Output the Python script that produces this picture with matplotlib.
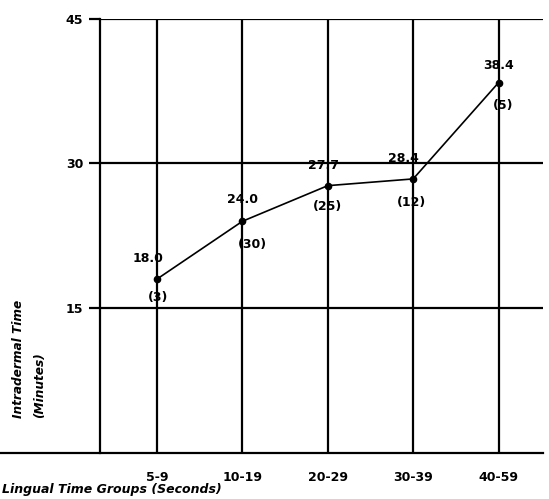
import matplotlib
matplotlib.use("Agg")
import matplotlib.pyplot as plt

#Data - - - - - - - - - - - - - - -
groups = ["5-9", "10-19", "20-29", "30-39", "40-59"]
intradermal = [18.0, 24.0, 27.7, 28.4, 38.4]
counts = [3, 30, 25, 12, 5]
y_ticks = [15, 30, 45]

#label offsets in pixels (value above, count below)
val_off = [(-9, 21), (0, 22), (-4, 20), (-10, 20), (0, 17)]
cnt_off = [(1, -18), (10, -23), (0, -21), (-2, -24), (5, -23)]

fig = plt.figure(figsize=(5.49, 4.99), dpi=100)
ax = fig.add_axes([100/549, 1-452.5/499, 443/549, (452.5-19)/499])

x = list(range(len(groups)))

#grid
for xi in x:
  ax.axvline(xi, color="black", lw=1.6, zorder=1)
for yv in y_ticks:
  ax.axhline(yv, color="black", lw=1.6, zorder=1)
#bottom axis runs out to the left edge
ax.axhline(0, xmin=-0.226, xmax=1, color="black", lw=1.6, clip_on=False, zorder=1)

ax.plot(x, intradermal, color="black", lw=1.2, marker="o", markersize=4.5, zorder=3)

for i in range(len(x)):
  ax.annotate("%.1f" % intradermal[i], (x[i], intradermal[i]), xytext=val_off[i],
              textcoords="offset pixels", ha="center", va="center",
              fontsize=9, fontweight="bold")
  ax.annotate("(%d)" % counts[i], (x[i], intradermal[i]), xytext=cnt_off[i],
              textcoords="offset pixels", ha="center", va="center",
              fontsize=9, fontweight="bold")

ax.set_xlim(-0.667, 4.52)
ax.set_ylim(0, 45)

for s in ["top", "right", "bottom"]:
  ax.spines[s].set_visible(False)
ax.spines["left"].set_linewidth(1.6)

ax.set_yticks(y_ticks)
ax.set_yticklabels([str(v) for v in y_ticks], fontsize=9, fontweight="bold")
ax.tick_params(axis="y", length=8, width=1.6, pad=4)
ax.set_xticks(x)
ax.set_xticklabels(groups, fontsize=9, fontweight="bold")
ax.tick_params(axis="x", length=0, pad=13)

fig.text(2/549, 1-490/499, "Lingual Time Groups (Seconds)", ha="left", va="center",
         fontsize=9, fontweight="bold", style="italic")
fig.text(19/549, 1-418/499, "Intradermal Time", rotation=90, ha="center", va="bottom",
         fontsize=8.7, fontweight="bold", style="italic")
fig.text(40/549, 1-418/499, "(Minutes)", rotation=90, ha="center", va="bottom",
         fontsize=8.7, fontweight="bold", style="italic")

plt.savefig("out.png", dpi=100)
